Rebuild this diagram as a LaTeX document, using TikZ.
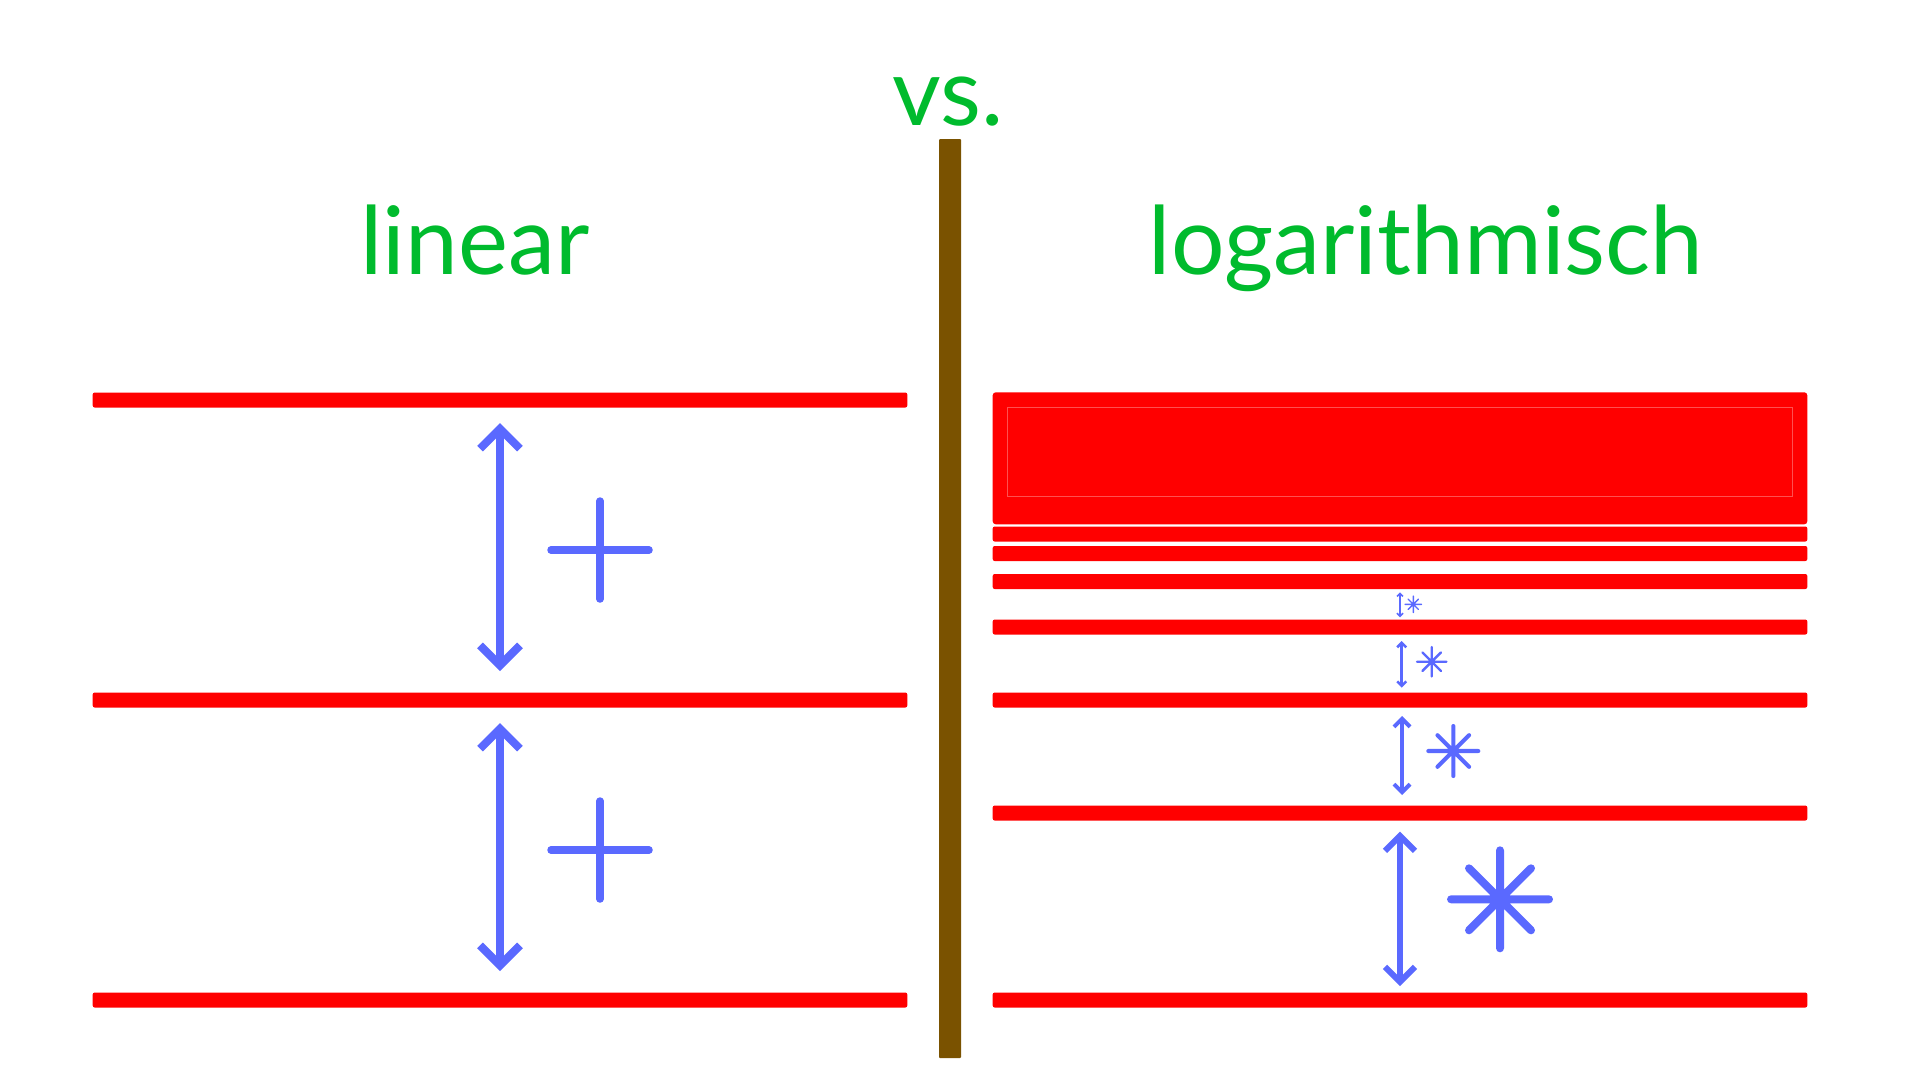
\documentclass[tikz,border=0pt]{standalone}
\usepackage{fontspec}
\setmainfont{Lato}
\usetikzlibrary{arrows.meta}
\definecolor{vgreen}{RGB}{0,187,45}
\definecolor{vblue}{RGB}{90,105,255}
\definecolor{vbrown}{RGB}{122,82,0}
\definecolor{vred}{RGB}{255,0,0}
\definecolor{vredlight}{RGB}{255,80,80}
\begin{document}
\begin{tikzpicture}[x=1pt,y=-1pt,
  redbar/.style={fill=vred, draw=none, rounded corners=2pt, inner sep=0pt, outer sep=0pt,
                 minimum width=814.6pt, minimum height=15pt},
  titletext/.style={text=vgreen, font=\fontsize{94.5}{110}\selectfont, anchor=base, inner sep=0pt},
  measarrow/.style n args={3}{draw=vblue, line width=#1,
     {Straight Barb[length=#2,width=#3]}-{Straight Barb[length=#2,width=#3]}},
  plussym/.pic={\draw[line cap=round] (-49,0)--(49,0) (0,-49)--(0,49);},
  astsym/.pic={\draw[line cap=round] (-49,0)--(49,0) (0,-49)--(0,49)
                 (-31,-31)--(31,31) (-31,31)--(31,-31);}
]
\useasboundingbox (0,0) rectangle (1920,1080);

% titles
\node[titletext] (vs) at (948,125) {vs.};
\node[titletext] (lin) at (475,274.3) {linear};
\node[titletext] (log) at (1426,274.3) {logarithmisch};

% divider
\node[fill=vbrown, draw=none, inner sep=0pt, minimum width=22pt, minimum height=919pt,
      rounded corners=1pt] (bar) at (950,598.5) {};

% left (linear) lines
\node[redbar] (L0) at (500,400) {};
\node[redbar] (L1) at (500,700) {};
\node[redbar] (L2) at (500,1000) {};

% right (logarithmic) lines
\node[redbar, minimum height=132pt, rounded corners=3pt] (blk) at (1400,458.3) {};
\draw[vredlight, line width=0.8pt] (1007.3,407.3) rectangle (1792.3,496.3);
\node[redbar] (R6) at (1400,534) {};
\node[redbar] (R5) at (1400,553.5) {};
\node[redbar] (R4) at (1400,581.5) {};
\node[redbar] (R3) at (1400,627) {};
\node[redbar] (R2) at (1400,700) {};
\node[redbar] (R1) at (1400,813) {};
\node[redbar] (R0) at (1400,1000) {};

% arrow end points
\coordinate (la1) at (500,423);   \coordinate (lb1) at (500,671);
\coordinate (la2) at (500,723);   \coordinate (lb2) at (500,971);
\coordinate (ra1) at (1400,831.7);  \coordinate (rb1) at (1400,986);
\coordinate (ra2) at (1402,716);    \coordinate (rb2) at (1402,795);
\coordinate (ra3) at (1401.7,641);  \coordinate (rb3) at (1401.7,687.7);
\coordinate (ra4) at (1400,592.3);  \coordinate (rb4) at (1400,617.3);

% arrows
\draw[measarrow={8pt}{20pt}{40pt}] (la1) -- (lb1);
\draw[measarrow={8pt}{20pt}{40pt}] (la2) -- (lb2);
\draw[measarrow={6pt}{15pt}{30pt}] (ra1) -- (rb1);
\draw[measarrow={4pt}{8pt}{16pt}] (ra2) -- (rb2);
\draw[measarrow={2.6pt}{4.5pt}{9pt}] (ra3) -- (rb3);
\draw[measarrow={1.6pt}{3pt}{6pt}] (ra4) -- (rb4);

% symbols
\pic[color=vblue, line width=7.5pt] at (600,550) {plussym};
\pic[color=vblue, line width=7.5pt] at (600,850) {plussym};
\pic[color=vblue, line width=8pt] at (1500,899.3) {astsym};
\pic[color=vblue, line width=4.1pt, scale=0.51] at (1453.3,751) {astsym};
\pic[color=vblue, line width=2.4pt, scale=0.3] at (1431.7,661.7) {astsym};
\pic[color=vblue, line width=1.4pt, scale=0.167] at (1413.3,604.3) {astsym};
\end{tikzpicture}
\end{document}
